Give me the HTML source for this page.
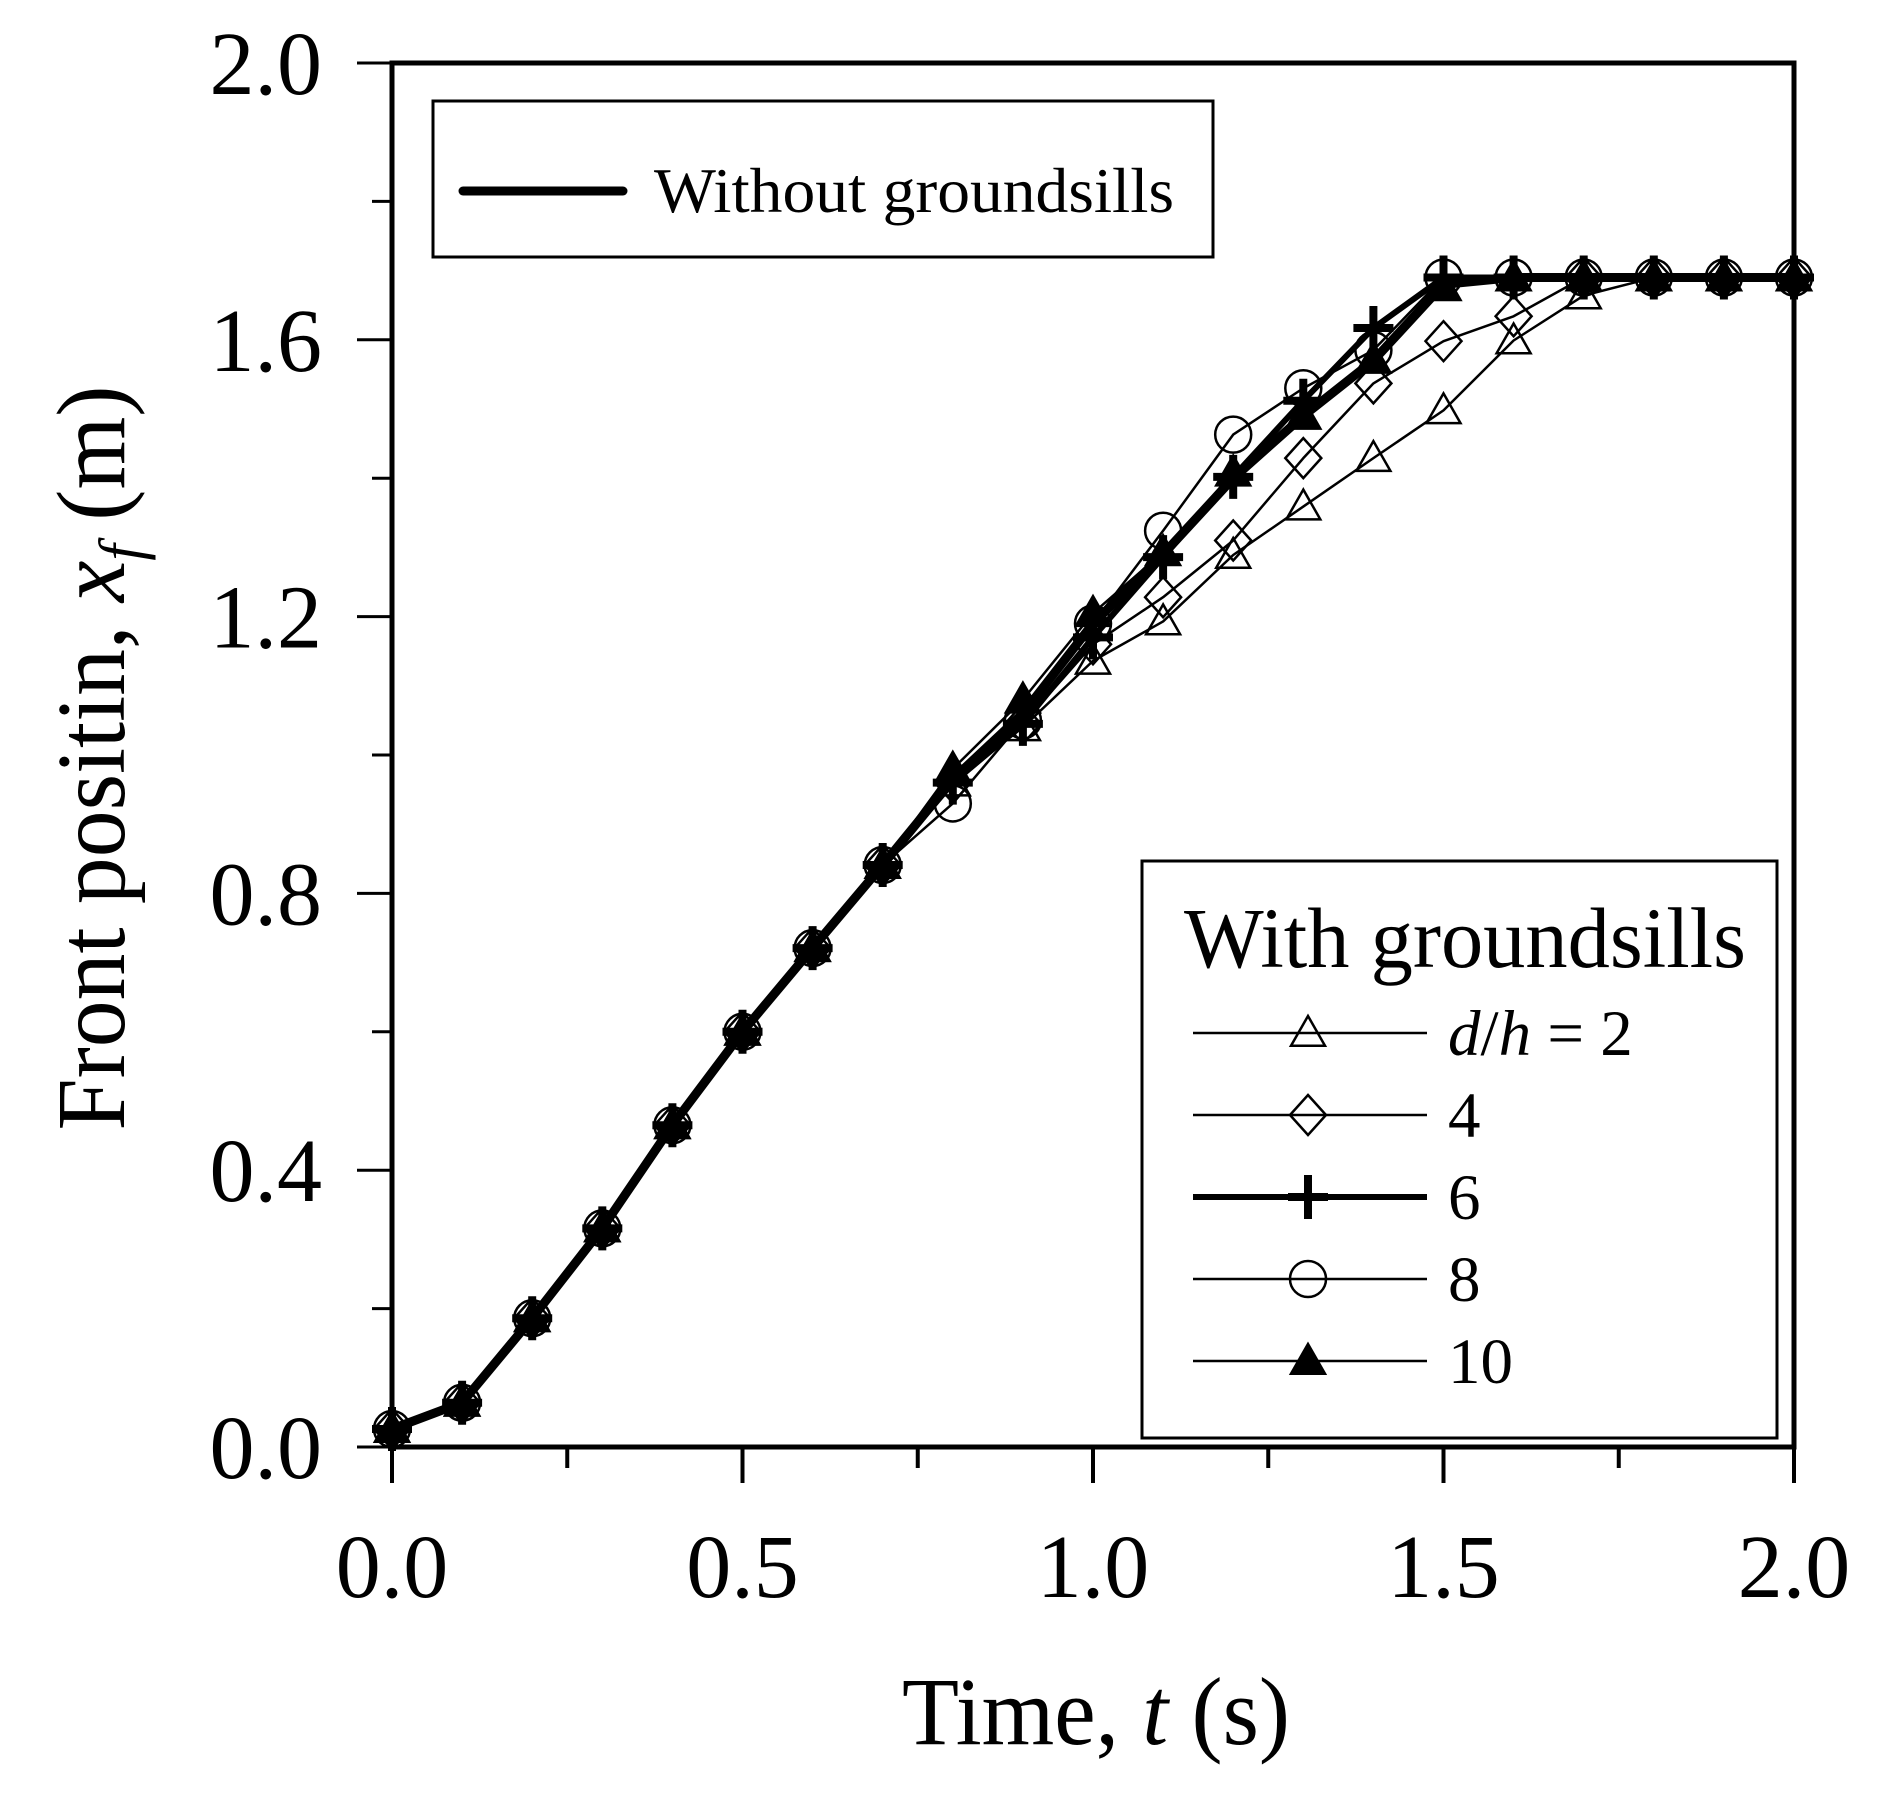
<!DOCTYPE html>
<html><head><meta charset="utf-8">
<style>
html,body{margin:0;padding:0;background:#fff;}
svg{display:block;}
text{font-family:"Liberation Serif",serif;fill:#000;}
</style></head>
<body>
<svg id="chart" width="1889" height="1802" viewBox="0 0 1889 1802" xmlns="http://www.w3.org/2000/svg">
<g id="plot"></g>
</svg>
<script>
const times = [0,0.1,0.2,0.3,0.4,0.5,0.6,0.7,0.8,0.9,1.0,1.1,1.2,1.3,1.4,1.5,1.6,1.7,1.8,1.9,2.0];
const seriesDH2  = [0.026,0.064,0.186,0.316,0.465,0.600,0.721,0.841,0.960,1.040,1.136,1.193,1.289,1.359,1.429,1.498,1.599,1.664,1.69,1.69,1.69];
const seriesDH4  = [0.026,0.064,0.186,0.316,0.465,0.600,0.721,0.841,0.960,1.045,1.160,1.228,1.310,1.429,1.537,1.598,1.634,1.69,1.69,1.69,1.69];
const seriesDH6  = [0.026,0.064,0.186,0.316,0.465,0.600,0.721,0.841,0.960,1.045,1.170,1.286,1.402,1.512,1.617,1.690,1.69,1.69,1.69,1.69,1.69];
const seriesDH8  = [0.026,0.064,0.186,0.316,0.465,0.600,0.721,0.841,0.930,1.050,1.190,1.324,1.463,1.530,1.585,1.690,1.69,1.69,1.69,1.69,1.69];
const seriesDH10 = [0.026,0.064,0.186,0.316,0.465,0.600,0.721,0.841,0.980,1.080,1.205,1.293,1.408,1.490,1.571,1.676,1.69,1.69,1.69,1.69,1.69];
const seriesWithout = [0.026,0.064,0.186,0.316,0.465,0.600,0.721,0.841,0.965,1.060,1.190,1.290,1.400,1.490,1.570,1.680,1.69,1.69,1.69,1.69,1.69];
const xTicks = [0.0,0.5,1.0,1.5,2.0];
const xTickLabels = ["0.0","0.5","1.0","1.5","2.0"];
const yTicks = [0.0,0.4,0.8,1.2,1.6,2.0];
const yTickLabels = ["0.0","0.4","0.8","1.2","1.6","2.0"];

const NS="http://www.w3.org/2000/svg";
const X0=392,X1=1794,Y0=1447,Y1=63;
function sx(v){return X0+(v-0)/(2-0)*(X1-X0);}
function sy(v){return Y0-(v-0)/(2-0)*(Y0-Y1);}
const svg=document.getElementById('chart');
function mk(tag,attrs,parent){const e=document.createElementNS(NS,tag);for(const k in attrs)e.setAttribute(k,attrs[k]);(parent||svg).appendChild(e);return e;}

const frame=mk('rect',{x:X0,y:Y1,width:X1-X0,height:Y0-Y1,fill:'none',stroke:'#000','stroke-width':5});



for(let v=0;v<=2.0001;v+=0.2){
  const major=Math.abs(v/0.4-Math.round(v/0.4))<1e-6;
  const t=mk('line',{x1:X0-(major?35:20),x2:X0,y1:sy(v),y2:sy(v),stroke:'#000','stroke-width':3});
  
  
}
yTicks.forEach((v,i)=>{
  const t=mk('text',{x:322,y:sy(v)+31,'text-anchor':'end','font-size':90});
  t.textContent=yTickLabels[i];
  
  
});
for(let v=0;v<=2.0001;v+=0.25){
  const major=Math.abs(v/0.5-Math.round(v/0.5))<1e-6;
  const t=mk('line',{x1:sx(v),x2:sx(v),y1:Y0,y2:Y0+(major?36:21),stroke:'#000','stroke-width':4});
  
  
}
xTicks.forEach((v,i)=>{
  const t=mk('text',{x:sx(v),y:1597,'text-anchor':'middle','font-size':90});
  t.textContent=xTickLabels[i];
  
  
});
const xt=mk('text',{x:1096,y:1744,'text-anchor':'middle','font-size':96,textLength:388,lengthAdjust:'spacingAndGlyphs'});
xt.innerHTML='Time, <tspan font-style="italic">t</tspan> (s)';


const yt=mk('text',{x:0,y:0,'text-anchor':'middle','font-size':98,textLength:745,lengthAdjust:'spacingAndGlyphs',transform:'translate(124,758) rotate(-90)'});
yt.innerHTML='Front positin, <tspan font-style="italic">x</tspan><tspan font-style="italic" font-size="62" dy="18">f</tspan><tspan dy="-18"> (m)</tspan>';



function marker(type,x,y,parent){
  const r=17;
  if(type==='tri'||type==='ftri'){
    return mk('polygon',{points:`${x},${y-r} ${x-r},${y+r*0.75} ${x+r},${y+r*0.75}`,fill:type==='ftri'?'#000':'none',stroke:'#000','stroke-width':2.5},parent);
  }
  if(type==='dia') return mk('polygon',{points:`${x},${y-20} ${x+18},${y} ${x},${y+20} ${x-18},${y}`,fill:'none',stroke:'#000','stroke-width':2.5},parent);
  if(type==='circ') return mk('circle',{cx:x,cy:y,r:18,fill:'none',stroke:'#000','stroke-width':2.5},parent);
  if(type==='plus') return mk('path',{d:`M${x-20},${y}H${x+20}M${x},${y-22}V${y+22}`,stroke:'#000','stroke-width':8,fill:'none'},parent);
}
function drawSeries(vals,type,width,name){
  const g=mk('g',{});
  
  
  const pts=vals.map((v,i)=>sx(times[i])+','+sy(v)).join(' ');
  const pl=mk('polyline',{points:pts,fill:'none',stroke:'#000','stroke-width':width,'stroke-linejoin':'round'},g);
  
  
  if(type) vals.forEach((v,i)=>{
    const m=marker(type,sx(times[i]),sy(v),g);
    
    
  });
}
drawSeries(seriesWithout,null,9,'series-without-groundsills');
drawSeries(seriesDH2,'tri',2.5,'series-dh2');
drawSeries(seriesDH4,'dia',2.5,'series-dh4');
drawSeries(seriesDH8,'circ',2.5,'series-dh8');
drawSeries(seriesDH10,'ftri',2.5,'series-dh10');
drawSeries(seriesDH6,'plus',6,'series-dh6');

const lg1=mk('g',{});


mk('rect',{x:433,y:101,width:780,height:156,fill:'#fff',stroke:'#000','stroke-width':3},lg1);
mk('line',{x1:463,x2:623,y1:191,y2:191,stroke:'#000','stroke-width':9,'stroke-linecap':'round'},lg1);
const l1t=mk('text',{x:654,y:212,'font-size':64,textLength:520,lengthAdjust:'spacingAndGlyphs'},lg1);
l1t.textContent='Without groundsills';



const lg2=mk('g',{});


mk('rect',{x:1142,y:861,width:635,height:577,fill:'#fff',stroke:'#000','stroke-width':3},lg2);
const lt=mk('text',{x:1184,y:967,'font-size':86,textLength:562,lengthAdjust:'spacingAndGlyphs'},lg2);
lt.textContent='With groundsills';


const legTypes=['tri','dia','plus','circ','ftri'];
const legLabels=['= 2','4','6','8','10'];
legTypes.forEach((tp,i)=>{
  const y=1033+i*82;
  const e=mk('g',{},lg2);
  
  
  mk('line',{x1:1193,x2:1427,y1:y,y2:y,stroke:'#000','stroke-width':tp==='plus'?6:2.5},e);
  marker(tp,1308,y,e);
  const t=mk('text',{x:1448,y:y+22,'font-size':65},e);
  if(i===0) t.innerHTML='<tspan font-style="italic">d</tspan>/<tspan font-style="italic">h</tspan> = 2';
  else t.textContent=legLabels[i];
});
</script>
</body></html>
